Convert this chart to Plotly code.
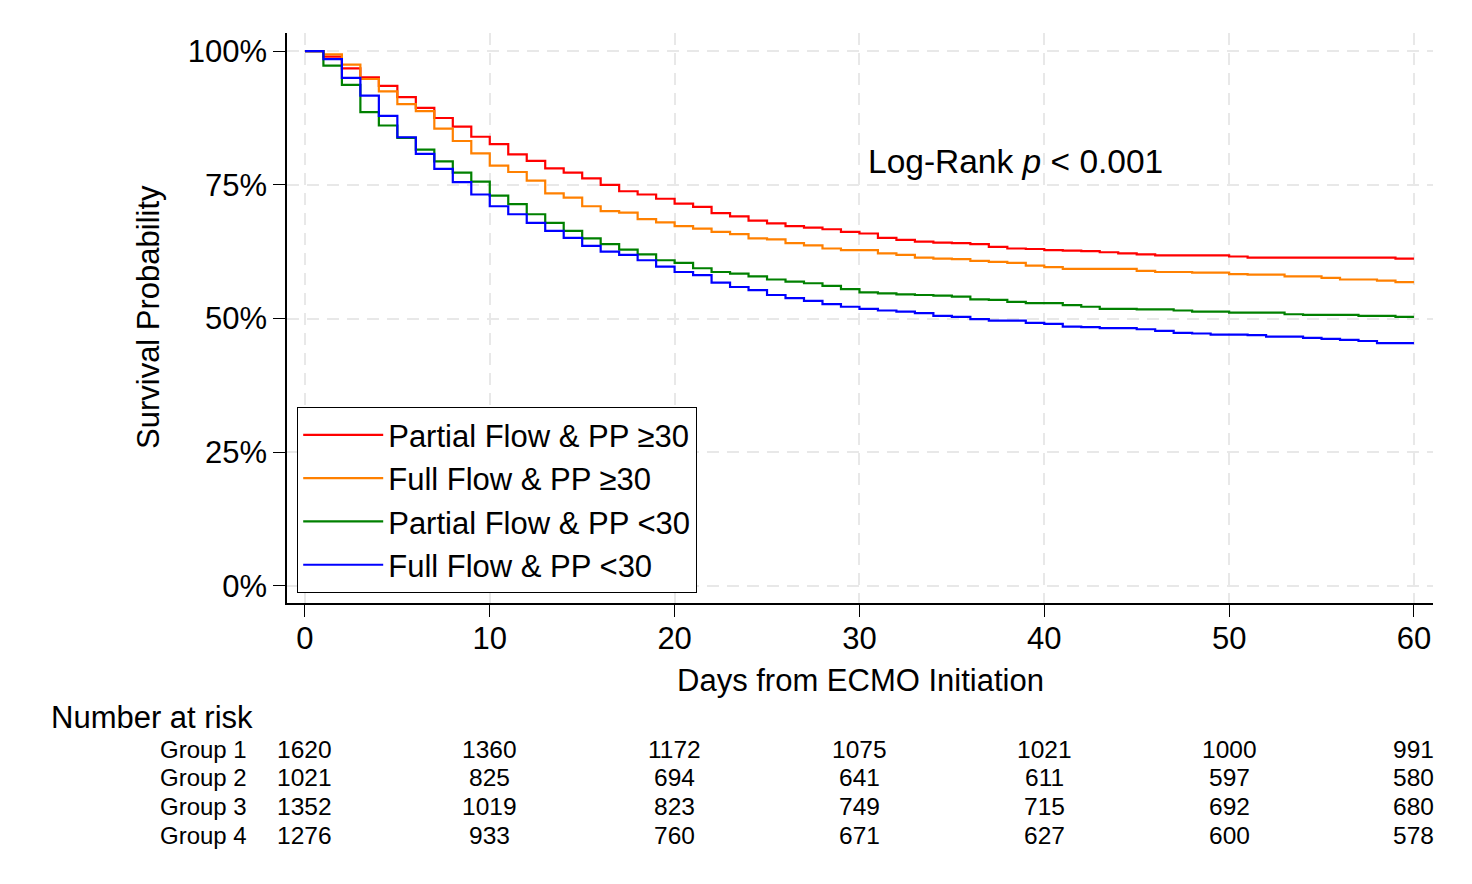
import plotly.graph_objects as go

days = list(range(0, 61))

partial_ge30 = [100, 99.0, 96.8, 95.1, 93.5, 91.4, 89.4, 87.5, 85.9, 84.0,
                82.6, 80.7, 79.5, 78.1, 77.3, 76.2, 75.0, 73.8, 73.2, 72.4,
                71.5, 70.9, 69.7, 69.1, 68.3, 67.8, 67.3, 67.0, 66.7, 66.2,
                65.9, 65.1, 64.7, 64.4, 64.2, 64.1, 63.9, 63.4, 63.1, 63.0,
                62.8, 62.7, 62.6, 62.4, 62.2, 62.0, 61.8, 61.8, 61.8, 61.8,
                61.6, 61.4, 61.4, 61.4, 61.4, 61.4, 61.4, 61.4, 61.4, 61.2, 61.2]

full_ge30 = [100, 99.4, 97.5, 94.8, 92.5, 90.1, 88.8, 85.5, 83.2, 80.9,
             78.6, 77.4, 75.8, 73.4, 72.6, 71.0, 70.1, 69.8, 68.6, 68.0,
             67.3, 66.8, 66.2, 65.8, 65.0, 64.8, 64.1, 63.7, 63.1, 62.8,
             62.8, 62.2, 61.9, 61.4, 61.2, 61.1, 60.8, 60.6, 60.4, 59.9,
             59.6, 59.3, 59.3, 59.3, 59.3, 58.9, 58.7, 58.7, 58.6, 58.6,
             58.3, 58.2, 58.2, 57.9, 57.9, 57.6, 57.3, 57.3, 57.1, 56.8, 56.8]

partial_lt30 = [100, 97.3, 93.7, 88.6, 86.1, 83.8, 81.6, 79.4, 77.3, 75.6,
                73.0, 71.4, 69.5, 67.9, 66.4, 65.0, 63.9, 62.9, 62.0, 60.9,
                60.4, 59.4, 58.7, 58.4, 57.9, 57.3, 56.9, 56.6, 56.1, 55.5,
                54.9, 54.7, 54.5, 54.4, 54.3, 54.1, 53.6, 53.5, 53.1, 52.9,
                52.9, 52.5, 52.2, 51.8, 51.8, 51.7, 51.7, 51.5, 51.3, 51.3,
                51.1, 51.1, 51.1, 50.8, 50.7, 50.7, 50.7, 50.5, 50.5, 50.3, 50.3]

full_lt30 = [100, 98.5, 95.0, 91.7, 87.9, 83.9, 80.8, 78.0, 75.5, 73.2,
             71.0, 69.5, 67.9, 66.4, 65.1, 63.6, 62.5, 61.9, 60.9, 59.7,
             58.7, 58.1, 56.7, 55.9, 55.3, 54.4, 53.8, 53.3, 52.7, 52.2,
             51.8, 51.5, 51.3, 51.0, 50.5, 50.3, 49.9, 49.6, 49.6, 49.2,
             49.0, 48.5, 48.4, 48.2, 48.2, 48.0, 47.7, 47.3, 47.2, 47.0,
             47.0, 46.9, 46.6, 46.6, 46.4, 46.2, 46.0, 45.8, 45.4, 45.4, 45.4]

series_names = ["Partial Flow & PP \u226530", "Full Flow & PP \u226530",
                "Partial Flow & PP <30", "Full Flow & PP <30"]
series_values = [partial_ge30, full_ge30, partial_lt30, full_lt30]
series_colors = ["#FF0000", "#FF8000", "#008000", "#0000FF"]

x_ticks = [0, 10, 20, 30, 40, 50, 60]
y_ticks = [0, 25, 50, 75, 100]
y_ticktext = ["0%", "25%", "50%", "75%", "100%"]

risk_groups = ["Group 1", "Group 2", "Group 3", "Group 4"]
risk_g1 = [1620, 1360, 1172, 1075, 1021, 1000, 991]
risk_g2 = [1021, 825, 694, 641, 611, 597, 580]
risk_g3 = [1352, 1019, 823, 749, 715, 692, 680]
risk_g4 = [1276, 933, 760, 671, 627, 600, 578]
risk_rows = [risk_g1, risk_g2, risk_g3, risk_g4]

FONT = "Liberation Sans, Arial, Helvetica, sans-serif"

fig = go.Figure()
for name, vals, col in zip(series_names, series_values, series_colors):
    fig.add_trace(go.Scatter(x=days, y=vals, mode="lines", name=name,
                             line=dict(color=col, width=2.2, shape="hv")))

# page body has an 8px margin; figure coordinates = page coordinates - 8
OFF = 8
W, H = 1472 - 2 * OFF, 884 - 2 * OFF
L, R, T, B = 287 - OFF, 1433 - OFF, 33 - OFF, 603 - OFF

def px_x(px):
    return (px - OFF - L) / (R - L)

def px_y(py):
    return (B - (py - OFF)) / (B - T)

annotations = []
annotations.append(dict(text="Survival Probability", xref="paper", yref="paper",
                        x=px_x(148), y=px_y(317), textangle=-90, showarrow=False,
                        xanchor="center", yanchor="middle",
                        font=dict(size=31, color="black", family=FONT)))
annotations.append(dict(text="Days from ECMO Initiation", xref="paper", yref="paper",
                        x=px_x(860), y=px_y(680), showarrow=False,
                        xanchor="center", yanchor="middle",
                        font=dict(size=31, color="black", family=FONT)))
annotations.append(dict(text="Log-Rank <i>p</i> < 0.001", xref="x", yref="y",
                        x=30.35, y=79.3, showarrow=False,
                        xanchor="left", yanchor="middle",
                        font=dict(size=33.5, color="black", family=FONT)))
annotations.append(dict(text="Number at risk", xref="paper", yref="paper",
                        x=px_x(49), y=px_y(717), showarrow=False,
                        xanchor="left", yanchor="middle",
                        font=dict(size=31, color="black", family=FONT)))
row_py = [749, 777, 806, 835]
for gname, row, py in zip(risk_groups, risk_rows, row_py):
    annotations.append(dict(text=gname, xref="paper", yref="paper",
                            x=px_x(249), y=px_y(py), showarrow=False,
                            xanchor="right", yanchor="middle",
                            font=dict(size=24, color="black", family=FONT)))
    for d, v in zip(x_ticks, row):
        annotations.append(dict(text=str(v), xref="x", yref="paper",
                                x=d, y=px_y(py), showarrow=False,
                                xanchor="center", yanchor="middle",
                                font=dict(size=24.5, color="black", family=FONT)))

grid_col = "#E8E8E8"
fig.update_layout(
    width=W, height=H,
    margin=dict(l=L, r=W - R, t=T, b=H - B, pad=0),
    paper_bgcolor="white", plot_bgcolor="white",
    font=dict(family=FONT, size=31, color="black"),
    showlegend=True,
    legend=dict(x=px_x(297), y=px_y(593), xanchor="left", yanchor="bottom",
                bgcolor="white", bordercolor="black", borderwidth=1.2,
                font=dict(size=31, color="black", family=FONT),
                itemwidth=80, tracegroupgap=0,
                entrywidth=420, entrywidthmode="pixels"),
    annotations=annotations,
    xaxis=dict(range=[-0.97, 61.03], tickvals=x_ticks, ticks="outside", ticklen=12,
               tickwidth=1.2, tickcolor="black", showline=True, linecolor="black",
               linewidth=1.5, showgrid=True, gridcolor=grid_col, gridwidth=2,
               griddash="12px,8px", zeroline=False, ticklabelstandoff=-5,
               tickfont=dict(size=31, family=FONT, color="black")),
    yaxis=dict(range=[-3.2, 103.4], tickvals=y_ticks, ticktext=y_ticktext,
               ticks="outside", ticklen=12, tickwidth=1.2, tickcolor="black",
               showline=True, linecolor="black", linewidth=1.5, showgrid=True,
               gridcolor=grid_col, gridwidth=2, griddash="12px,8px", zeroline=False,
               tickfont=dict(size=31, family=FONT, color="black")),
)

fig.write_html("out.html")
